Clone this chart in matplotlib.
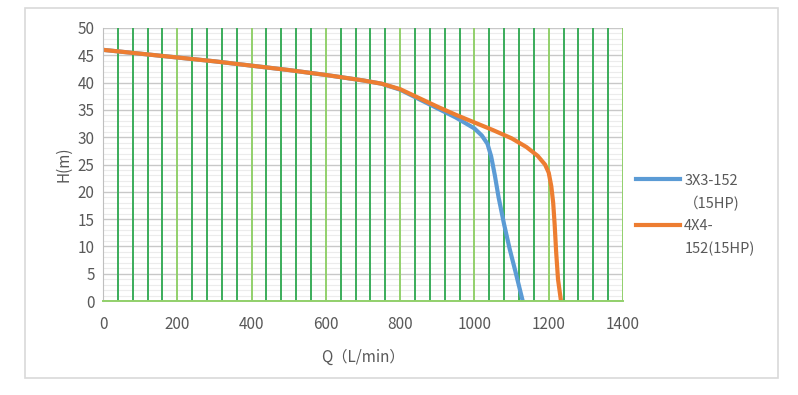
import matplotlib.pyplot as plt
from matplotlib.patches import Rectangle
from matplotlib.lines import Line2D
from matplotlib.ticker import MultipleLocator

plt.rcParams['font.family'] = ['Noto Sans CJK SC', 'DejaVu Sans']

# Pump curves
q_3x3 = [0, 100, 200, 300, 400, 500, 600, 700, 750, 800, 850, 900, 950, 1000,
         1020, 1035, 1045, 1055, 1065, 1080, 1095, 1110, 1130]
h_3x3 = [46, 45.3, 44.6, 43.9, 43.1, 42.3, 41.4, 40.4, 39.8, 38.7, 37.0, 35.3, 33.6, 31.6,
         30.3, 28.8, 26.5, 23, 19, 14, 9.5, 5.5, 0]
q_4x4 = [0, 100, 200, 300, 400, 500, 600, 700, 750, 800, 850, 900, 950, 1000,
         1050, 1100, 1140, 1170, 1190, 1200, 1207, 1212, 1216, 1220, 1225, 1233]
h_4x4 = [46, 45.3, 44.6, 43.9, 43.1, 42.3, 41.4, 40.4, 39.8, 38.8, 37.2, 35.6, 34.1, 32.7,
         31.3, 29.8, 28.2, 26.6, 25.0, 23.5, 21, 18, 14, 9, 4, 0]

labels = ['3X3-152', '（15HP)', '4X4-', '152(15HP)']

fig = plt.figure(figsize=(7.98, 3.95), dpi=100)
fig.patches.append(Rectangle((25/798, 1-378/395), 753/798, 370/395, transform=fig.transFigure,
                             fill=False, edgecolor='#d9d9d9', linewidth=1.2))
ax = fig.add_axes([103/798, 1-301/395, 520/798, 273/395])

ax.set_xlim(0, 1400)
ax.set_ylim(0, 50)
ax.xaxis.set_major_locator(MultipleLocator(200))
ax.yaxis.set_major_locator(MultipleLocator(5))
ax.xaxis.set_minor_locator(MultipleLocator(40))
ax.yaxis.set_minor_locator(MultipleLocator(1))

ax.grid(which='minor', axis='y', color='#ececec', linewidth=0.8)
ax.grid(which='major', axis='y', color='#c8c8c8', linewidth=1.0)
ax.grid(which='minor', axis='x', color='#3aac5a', linewidth=1.4)
ax.grid(which='major', axis='x', color='#92d06b', linewidth=1.4)
ax.set_axisbelow(True)
# vertical green lines sit above the horizontal gray ones
ax.yaxis.set_zorder(0.4)
ax.xaxis.set_zorder(0.5)

for s in ['top', 'right']:
    ax.spines[s].set_visible(False)
ax.spines['left'].set_color('#bfbfbf')
ax.spines['bottom'].set_color('#92d06b')
ax.spines['bottom'].set_linewidth(1.4)
ax.tick_params(which='both', length=0, labelsize=11, labelcolor='#595959', pad=6)
ax.tick_params(axis='x', pad=11)

ax.plot(q_3x3, h_3x3, color='#5b9bd5', linewidth=3, solid_capstyle='butt')
ax.plot(q_4x4, h_4x4, color='#ed7d31', linewidth=3, solid_capstyle='butt')

ax.set_xlabel('Q（L/min）', fontsize=11, color='#595959', labelpad=11)
ax.set_ylabel('H(m)', fontsize=11, color='#595959', labelpad=4)

handles = [Line2D([], [], color='#5b9bd5', linewidth=3),
           Line2D([], [], color='none'),
           Line2D([], [], color='#ed7d31', linewidth=3),
           Line2D([], [], color='none')]
leg = ax.legend(handles, labels, loc='upper left', bbox_to_anchor=(1.0, 0.515), frameon=False,
                fontsize=10.5, handlelength=3.0, labelspacing=0.56, handletextpad=0.3,
                borderaxespad=0.5)
for t in leg.get_texts():
    t.set_color('#595959')

fig.savefig('out.png', dpi=100)
